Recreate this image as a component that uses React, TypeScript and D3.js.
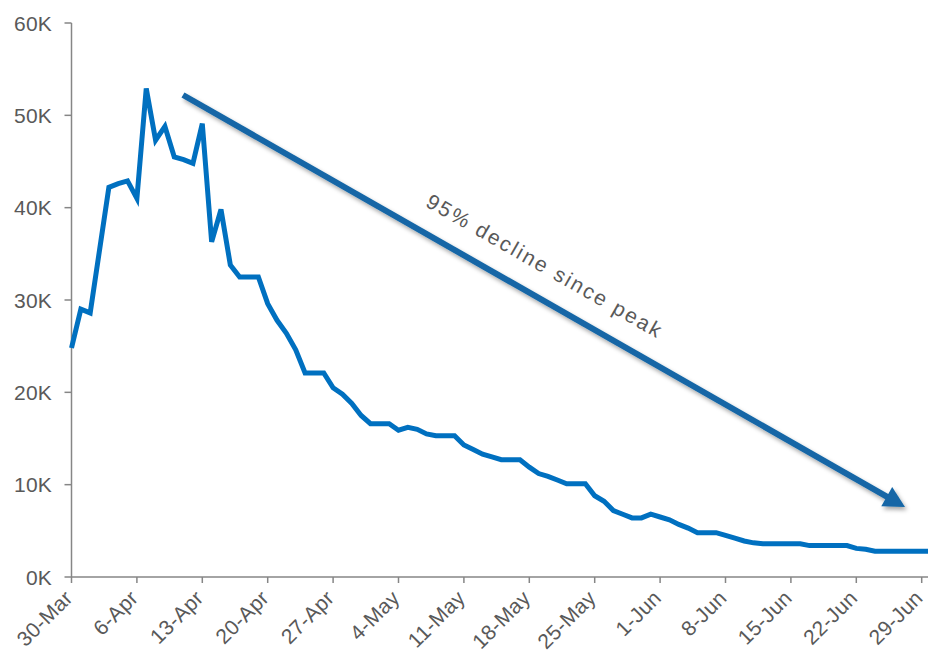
import React from "react";
import * as d3 from "d3";

const startDate = "2020-03-30";
// Daily values, in thousands, starting 30-Mar
const values: number[] = [
  24.8, 29.0, 28.6, 35.4, 42.2, 42.6, 42.9, 41.0, 52.9, 47.3,
  48.8, 45.5, 45.2, 44.8, 49.1, 36.3, 39.8, 33.8, 32.5, 32.5,
  32.5, 29.6, 27.8, 26.4, 24.6, 22.1, 22.1, 22.1, 20.5, 19.8,
  18.8, 17.5, 16.6, 16.6, 16.6, 15.9, 16.2, 16.0, 15.5, 15.3,
  15.3, 15.3, 14.3, 13.8, 13.3, 13.0, 12.7, 12.7, 12.7, 11.9,
  11.2, 10.9, 10.5, 10.1, 10.1, 10.1, 8.8, 8.2, 7.2, 6.8,
  6.4, 6.4, 6.8, 6.5, 6.2, 5.7, 5.3, 4.8, 4.8, 4.8,
  4.5, 4.2, 3.9, 3.7, 3.6, 3.6, 3.6, 3.6, 3.6, 3.4,
  3.4, 3.4, 3.4, 3.4, 3.1, 3.0, 2.8, 2.8, 2.8, 2.8,
  2.8, 2.8, 2.8,
];
const yTicks: number[] = [0, 10, 20, 30, 40, 50, 60];
const xTickLabels: string[] = [
  "30-Mar", "6-Apr", "13-Apr", "20-Apr", "27-Apr", "4-May", "11-May",
  "18-May", "25-May", "1-Jun", "8-Jun", "15-Jun", "22-Jun", "29-Jun",
];
const annotation = "95% decline since peak";

const W = 928;
const H = 658;
const FONT = "'Liberation Sans', Arial, sans-serif";
const TEXT = "#595959";
const AXIS = "#868686";

export default function App() {
  const t0 = new Date(startDate + "T00:00:00Z");
  const dayMs = 86400000;
  const data = values.map((v, i) => ({ date: new Date(t0.getTime() + i * dayMs), v }));
  const lastTick = new Date(t0.getTime() + 91 * dayMs);

  const x = d3.scaleUtc().domain([t0, lastTick]).range([71.5, 921.7]);
  const y = d3.scaleLinear().domain([0, 60]).range([577, 23]);

  const line = d3
    .line<{ date: Date; v: number }>()
    .x((d) => x(d.date))
    .y((d) => y(d.v));

  const tickDates = xTickLabels.map((_, i) => new Date(t0.getTime() + i * 7 * dayMs));

  // annotation arrow
  const ax0 = 183, ay0 = 95, ax1 = 905, ay1 = 507;
  const dx = ax1 - ax0, dy = ay1 - ay0;
  const len = Math.hypot(dx, dy);
  const ux = dx / len, uy = dy / len;
  const nx = -uy, ny = ux;
  const headLen = 21, headHalf = 11;
  const bx = ax1 - headLen * ux, by = ay1 - headLen * uy;
  const angle = (Math.atan2(dy, dx) * 180) / Math.PI;
  const head = `M${ax1},${ay1} L${bx + headHalf * nx},${by + headHalf * ny} L${bx - headHalf * nx},${by - headHalf * ny} Z`;

  return (
    <svg
      width={W}
      height={H}
      style={{ position: "absolute", left: 0, top: 0, background: "#fff" }}
      fontFamily={FONT}
    >
      <defs>
        <filter id="shadow" x="-10%" y="-10%" width="120%" height="130%">
          <feDropShadow dx="2" dy="3" stdDeviation="2" floodColor="#000" floodOpacity="0.35" />
        </filter>
        <clipPath id="clip">
          <rect x={0} y={0} width={W} height={H} />
        </clipPath>
      </defs>

      {/* Y axis */}
      <line x1={71.5} x2={71.5} y1={y(60)} y2={y(0)} stroke={AXIS} strokeWidth={1.5} />
      {yTicks.map((t) => (
        <g key={t}>
          <line x1={64.5} x2={71.5} y1={y(t)} y2={y(t)} stroke={AXIS} strokeWidth={1.5} />
          <text
            x={52}
            y={y(t)}
            dy="0.36em"
            textAnchor="end"
            fontSize={21}
            fill={TEXT}
            letterSpacing={0.2}
          >
            {`${t}K`}
          </text>
        </g>
      ))}

      {/* X axis */}
      <line x1={71.5} x2={W} y1={y(0)} y2={y(0)} stroke={AXIS} strokeWidth={1.5} />
      {tickDates.map((d, i) => (
        <g key={i}>
          <line x1={x(d)} x2={x(d)} y1={y(0)} y2={y(0) + 6} stroke={AXIS} strokeWidth={1.5} />
          <text
            transform={`translate(${x(d) - 8},${y(0) + 12}) rotate(-45)`}
            textAnchor="end"
            dy="0.7em"
            fontSize={21}
            fill={TEXT}
            letterSpacing={0.3}
          >
            {xTickLabels[i]}
          </text>
        </g>
      ))}

      {/* Data line */}
      <path
        d={line(data) || ""}
        fill="none"
        stroke="#0070C0"
        strokeWidth={5}
        strokeLinejoin="miter"
        clipPath="url(#clip)"
      />

      {/* Annotation arrow */}
      <g filter="url(#shadow)">
        <line x1={ax0} y1={ay0} x2={bx + 2 * ux} y2={by + 2 * uy} stroke="#1366A6" strokeWidth={6} />
        <path d={head} fill="#1366A6" />
      </g>
      <text
        transform={`translate(545,266) rotate(${angle})`}
        textAnchor="middle"
        dy="0.35em"
        fontSize={21}
        fill={TEXT}
        letterSpacing={2.2}
      >
        {annotation}
      </text>
    </svg>
  );
}
